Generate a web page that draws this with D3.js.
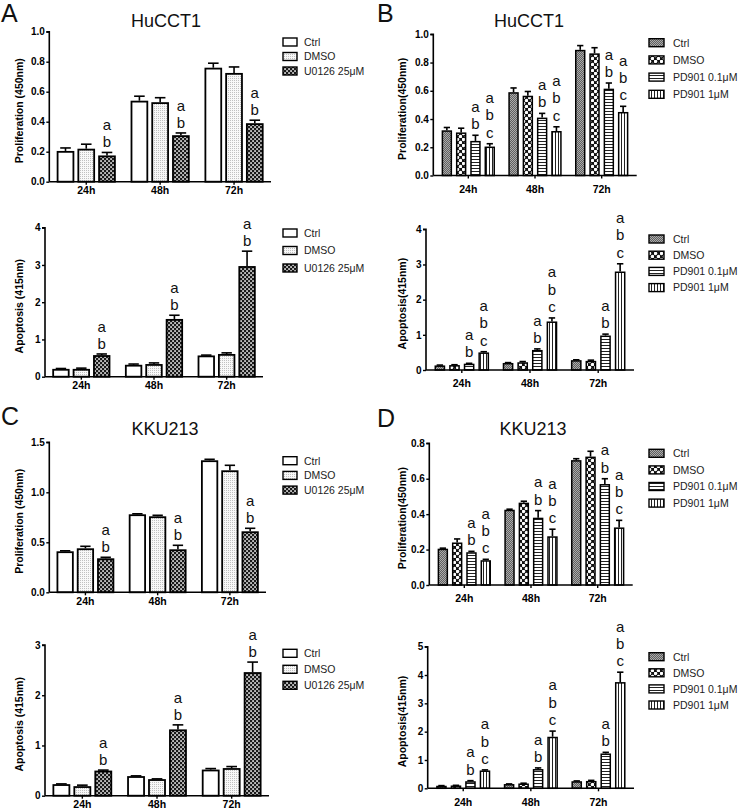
<!DOCTYPE html>
<html><head><meta charset="utf-8">
<script src="https://cdn.jsdelivr.net/npm/d3@7"></script>
<style>body{margin:0;background:#fff}svg{display:block}text{font-family:"Liberation Sans",Arial,sans-serif}</style>
</head><body>
<svg id="fig" width="742" height="812"></svg>
<script>
// ---------- DATA ----------
const groups = ["24h", "48h", "72h"];
const seriesU = ["Ctrl", "DMSO", "U0126 25μM"];
const seriesPD = ["Ctrl", "DMSO", "PD901 0.1μM", "PD901 1μM"];
const cellLines = ["HuCCT1", "HuCCT1", "KKU213", "KKU213"];
const panelLetters = ["A", "B", "C", "D"];

// A: HuCCT1 + U0126 (rows = groups, cols = series)
const aProlifMean = [[0.205, 0.22, 0.175], [0.54, 0.53, 0.31], [0.76, 0.725, 0.39]];
const aProlifErr  = [[0.02, 0.03, 0.02], [0.03, 0.03, 0.015], [0.03, 0.04, 0.02]];
const aProlifSig  = [["", "", "ab"], ["", "", "ab"], ["", "", "ab"]];
const aApopMean = [[0.21, 0.21, 0.58], [0.32, 0.34, 1.55], [0.57, 0.61, 2.97]];
const aApopErr  = [[0.01, 0.02, 0.03], [0.02, 0.03, 0.1], [0.01, 0.03, 0.4]];
const aApopSig  = [["", "", "ab"], ["", "", "ab"], ["", "", "ab"]];

// B: HuCCT1 + PD901
const bProlifMean = [[0.32, 0.305, 0.245, 0.205], [0.59, 0.565, 0.41, 0.315], [0.89, 0.865, 0.615, 0.45]];
const bProlifErr  = [[0.02, 0.03, 0.04, 0.02], [0.03, 0.03, 0.03, 0.03], [0.03, 0.04, 0.04, 0.04]];
const bProlifSig  = [["", "", "ab", "abc"], ["", "", "ab", "abc"], ["", "", "ab", "abc"]];
const bApopMean = [[0.13, 0.14, 0.18, 0.5], [0.2, 0.22, 0.57, 1.38], [0.28, 0.26, 0.98, 2.8]];
const bApopErr  = [[0.01, 0.01, 0.01, 0.02], [0.01, 0.02, 0.03, 0.1], [0.01, 0.02, 0.04, 0.22]];
const bApopSig  = [["", "", "ab", "abc"], ["", "", "ab", "abc"], ["", "", "ab", "abc"]];

// C: KKU213 + U0126
const cProlifMean = [[0.41, 0.44, 0.34], [0.78, 0.76, 0.43], [1.32, 1.22, 0.61]];
const cProlifErr  = [[0.005, 0.02, 0.01], [0.005, 0.01, 0.04], [0.01, 0.05, 0.03]];
const cProlifSig  = [["", "", "ab"], ["", "", "ab"], ["", "", "ab"]];
const cApopMean = [[0.23, 0.19, 0.5], [0.39, 0.33, 1.32], [0.52, 0.55, 2.46]];
const cApopErr  = [[0.005, 0.02, 0.01], [0.005, 0.005, 0.09], [0.02, 0.03, 0.2]];
const cApopSig  = [["", "", "ab"], ["", "", "ab"], ["", "", "ab"]];

// D: KKU213 + PD901
const dProlifMean = [[0.205, 0.24, 0.185, 0.14], [0.425, 0.465, 0.38, 0.275], [0.705, 0.725, 0.57, 0.325]];
const dProlifErr  = [[0.003, 0.02, 0.005, 0.005], [0.003, 0.008, 0.04, 0.04], [0.008, 0.03, 0.03, 0.04]];
const dProlifSig  = [["", "", "ab", "abc"], ["", "", "ab", "abc"], ["", "", "ab", "abc"]];
const dApopMean = [[0.09, 0.1, 0.25, 0.63], [0.15, 0.17, 0.68, 1.82], [0.25, 0.26, 1.23, 3.75]];
const dApopErr  = [[0.005, 0.005, 0.02, 0.02], [0.005, 0.01, 0.04, 0.2], [0.01, 0.02, 0.04, 0.35]];
const dApopSig  = [["", "", "ab", "abc"], ["", "", "ab", "abc"], ["", "", "ab", "abc"]];

// tick values
const ticksProlifA = [0, 0.2, 0.4, 0.6, 0.8, 1.0];
const ticksProlifB = [0, 0.2, 0.4, 0.6, 0.8, 1.0];
const ticksProlifC = [0, 0.5, 1.0, 1.5];
const ticksProlifD = [0, 0.2, 0.4, 0.6, 0.8];
const ticksApopA = [0, 1, 2, 3, 4];
const ticksApopB = [0, 1, 2, 3, 4];
const ticksApopC = [0, 1, 2, 3];
const ticksApopD = [0, 1, 2, 3, 4, 5];

// ---------- DRAWING ----------
const svg = d3.select("#fig");
svg.append("rect").attr("width", 742).attr("height", 812).attr("fill", "#fff");
const defs = svg.append("defs");

function pat(id, w, h, build) {
  const p = defs.append("pattern").attr("id", id).attr("patternUnits", "userSpaceOnUse")
    .attr("width", w).attr("height", h);
  build(p);
}
pat("pWhite", 4, 4, p => p.append("rect").attr("width", 4).attr("height", 4).attr("fill", "#fff"));
pat("pStipple", 2, 2, p => {
  p.append("rect").attr("width", 2).attr("height", 2).attr("fill", "#f8f8f8");
  p.append("rect").attr("width", 1).attr("height", 1).attr("fill", "#c0c0c0");
});
pat("pCheck", 4, 4, p => {
  p.append("rect").attr("width", 4).attr("height", 4).attr("fill", "#1a1a1a");
  p.append("rect").attr("x", 0.25).attr("y", 0.25).attr("width", 1.6).attr("height", 1.6).attr("fill", "#fff");
  p.append("rect").attr("x", 2.25).attr("y", 2.25).attr("width", 1.6).attr("height", 1.6).attr("fill", "#fff");
});
pat("pGray", 2, 2, p => {
  p.append("rect").attr("width", 2).attr("height", 2).attr("fill", "#606060");
  p.append("rect").attr("width", 1).attr("height", 1).attr("fill", "#ababab");
  p.append("rect").attr("x", 1).attr("y", 1).attr("width", 1).attr("height", 1).attr("fill", "#ababab");
});
pat("pDiamond", 6, 6, p => {
  p.append("rect").attr("width", 6).attr("height", 6).attr("fill", "#111");
  p.append("circle").attr("cx", 1.5).attr("cy", 1.5).attr("r", 1.75).attr("fill", "#fff");
  p.append("circle").attr("cx", 4.5).attr("cy", 4.5).attr("r", 1.75).attr("fill", "#fff");
});
pat("pHoriz", 3, 3, p => {
  p.append("rect").attr("width", 3).attr("height", 3).attr("fill", "#fff");
  p.append("rect").attr("y", 0).attr("width", 3).attr("height", 1).attr("fill", "#222");
});
pat("pVert", 3, 3, p => {
  p.append("rect").attr("width", 3).attr("height", 3).attr("fill", "#fff");
  p.append("rect").attr("x", 0).attr("width", 1).attr("height", 3).attr("fill", "#222");
});

const fillsU = ["url(#pWhite)", "url(#pStipple)", "url(#pCheck)"];
const fillsPD = ["url(#pGray)", "url(#pDiamond)", "url(#pHoriz)", "url(#pVert)"];

function drawPanel(cfg, series, fills, means, errs, sigs, ticks, fmt) {
  const g = svg.append("g");
  const y = d3.scaleLinear().domain([0, cfg.max]).range([cfg.yb, cfg.yt]);
  const x = d3.scaleBand().domain(groups).range([cfg.x0, cfg.x1])
    .paddingInner(cfg.pi).paddingOuter(cfg.po);
  const xs = d3.scaleBand().domain(series).range([0, x.bandwidth()]).paddingInner(cfg.sub).paddingOuter(0);
  const bw = xs.bandwidth();
  const sw = cfg.sw;

  groups.forEach((grp, gi) => {
    series.forEach((s, si) => {
      const v = means[gi][si], e = errs[gi][si];
      const bx = x(grp) + xs(s);
      const cx = bx + bw / 2;
      // error bar (upper)
      const yTop = y(v + e);
      g.append("line").attr("x1", cx).attr("x2", cx).attr("y1", y(v)).attr("y2", yTop)
        .attr("stroke", "#000").attr("stroke-width", 1.6);
      g.append("line").attr("x1", cx - bw * 0.3).attr("x2", cx + bw * 0.3).attr("y1", yTop).attr("y2", yTop)
        .attr("stroke", "#000").attr("stroke-width", 1.6);
      g.append("rect").attr("x", bx + sw / 2).attr("y", y(v) + sw / 2)
        .attr("width", bw - sw).attr("height", Math.max(0, cfg.yb - y(v) - sw / 2))
        .attr("fill", fills[si]).attr("stroke", "#000").attr("stroke-width", sw);
      // significance letters, stacked
      const letters = sigs[gi][si].split("");
      const n = letters.length;
      letters.forEach((L, li) => {
        g.append("text").attr("x", cx)
          .attr("y", yTop - cfg.lgap - (n - 1 - li) * cfg.lstep)
          .attr("text-anchor", "middle").attr("font-size", cfg.lfs).attr("fill", "#111").text(L);
      });
    });
  });

  // axes
  const ya = d3.axisLeft(y).tickValues(ticks).tickFormat(d3.format(fmt)).tickSize(3).tickPadding(1.5);
  const yg = g.append("g").attr("transform", `translate(${cfg.x0},0)`).call(ya);
  yg.select(".domain").attr("stroke-width", 1.6).attr("d", `M-3,${cfg.yt}H0V${cfg.yb}`);
  yg.selectAll(".tick line").attr("stroke-width", 1.4);
  yg.selectAll("text").attr("font-size", 10).attr("font-weight", "bold").attr("font-family", "Liberation Sans, Arial, sans-serif");

  const xa = d3.axisBottom(x).tickSize(3).tickPadding(cfg.xpad);
  const xg = g.append("g").attr("transform", `translate(0,${cfg.yb})`).call(xa);
  xg.select(".domain").attr("stroke-width", 1.6).attr("d", `M${cfg.x0},0H${cfg.x1}`);
  xg.selectAll(".tick line").attr("stroke-width", 1.4);
  xg.selectAll("text").attr("font-size", 10.5).attr("font-weight", "bold").attr("font-family", "Liberation Sans, Arial, sans-serif");

  // y label
  g.append("text").attr("transform", `translate(${cfg.ylx},${(cfg.yt + cfg.yb) / 2 + cfg.yly}) rotate(-90)`)
    .attr("text-anchor", "middle").attr("font-size", 10.5).attr("font-weight", "bold").text(cfg.ylabel);

  // legend
  series.forEach((s, si) => {
    const ly = cfg.legY + si * cfg.legStep;
    g.append("rect").attr("x", cfg.legX).attr("y", ly - 4).attr("width", cfg.legW).attr("height", 8)
      .attr("fill", fills[si]).attr("stroke", "#000").attr("stroke-width", 1.4);
    g.append("text").attr("x", cfg.legX + cfg.legT).attr("y", ly + 3.8).attr("font-size", 10.5)
      .attr("fill", "#222").text(s);
  });
}

const baseU = { pi: 0.2, po: 0.1, sub: 0.15, sw: 1.8, lgap: 5, lstep: 17.3, lfs: 15, legX: 283, legW: 14, legT: 21, ylx: 23, yly: 4, xpad: 2 };
const basePD = { pi: 0.2, po: 0.125, sub: 0.27, sw: 1.5, lgap: 6, lstep: 17.3, lfs: 15, legX: 649, legW: 15, legT: 24, ylx: 406, yly: 4, xpad: 7 };

drawPanel(Object.assign({}, baseU, { x0: 49.3, x1: 271, yb: 181.7, yt: 31.7, max: 1.0, ylabel: "Proliferation (450nm)", legY: 42, legStep: 14.5 }),
  seriesU, fillsU, aProlifMean, aProlifErr, aProlifSig, ticksProlifA, ".1f");
drawPanel(Object.assign({}, baseU, { x0: 45, x1: 263, yb: 376.7, yt: 227.7, max: 4, ylabel: "Apoptosis (415nm)", legY: 233, legStep: 17.5 }),
  seriesU, fillsU, aApopMean, aApopErr, aApopSig, ticksApopA, "d");
drawPanel(Object.assign({}, basePD, { x0: 433.3, x1: 636.7, yb: 175.5, yt: 34.3, max: 1.0, ylabel: "Proliferation(450nm)", legY: 42.7, legStep: 17.2 }),
  seriesPD, fillsPD, bProlifMean, bProlifErr, bProlifSig, ticksProlifB, ".1f");
drawPanel(Object.assign({}, basePD, { x0: 426, x1: 634, yb: 370, yt: 229.3, max: 4, ylabel: "Apoptosis(415nm)", legY: 239, legStep: 16.2 }),
  seriesPD, fillsPD, bApopMean, bApopErr, bApopSig, ticksApopB, "d");
drawPanel(Object.assign({}, baseU, { x0: 49.3, x1: 266, yb: 592.3, yt: 442.3, max: 1.5, ylabel: "Proliferation (450nm)", legY: 460.7, legStep: 14.7 }),
  seriesU, fillsU, cProlifMean, cProlifErr, cProlifSig, ticksProlifC, ".1f");
drawPanel(Object.assign({}, baseU, { x0: 45, x1: 269, yb: 795.7, yt: 645, max: 3, ylabel: "Apoptosis (415nm)", legY: 653.3, legStep: 16 }),
  seriesU, fillsU, cApopMean, cApopErr, cApopSig, ticksApopC, "d");
drawPanel(Object.assign({}, basePD, { x0: 429.3, x1: 632.7, yb: 585, yt: 443.3, max: 0.8, ylabel: "Proliferation(450nm)", legY: 453.3, legStep: 16.6 }),
  seriesPD, fillsPD, dProlifMean, dProlifErr, dProlifSig, ticksProlifD, ".1f");
drawPanel(Object.assign({}, basePD, { x0: 427.7, x1: 634, yb: 788.3, yt: 646.7, max: 5, ylabel: "Apoptosis(415nm)", legY: 656.7, legStep: 16.1 }),
  seriesPD, fillsPD, dApopMean, dApopErr, dApopSig, ticksApopD, "d");

// titles and panel letters
const titlePos = [[166, 26.5], [529, 26.5], [165, 435], [533, 435]];
const letterPos = [[1, 21.5], [377, 21.5], [1, 425], [377, 427]];
cellLines.forEach((t, i) => {
  svg.append("text").attr("x", titlePos[i][0]).attr("y", titlePos[i][1]).attr("text-anchor", "middle")
    .attr("font-size", 18).attr("fill", "#111").text(t);
  svg.append("text").attr("x", letterPos[i][0]).attr("y", letterPos[i][1])
    .attr("font-size", 25).attr("fill", "#111").text(panelLetters[i]);
});
</script>
</body></html>
